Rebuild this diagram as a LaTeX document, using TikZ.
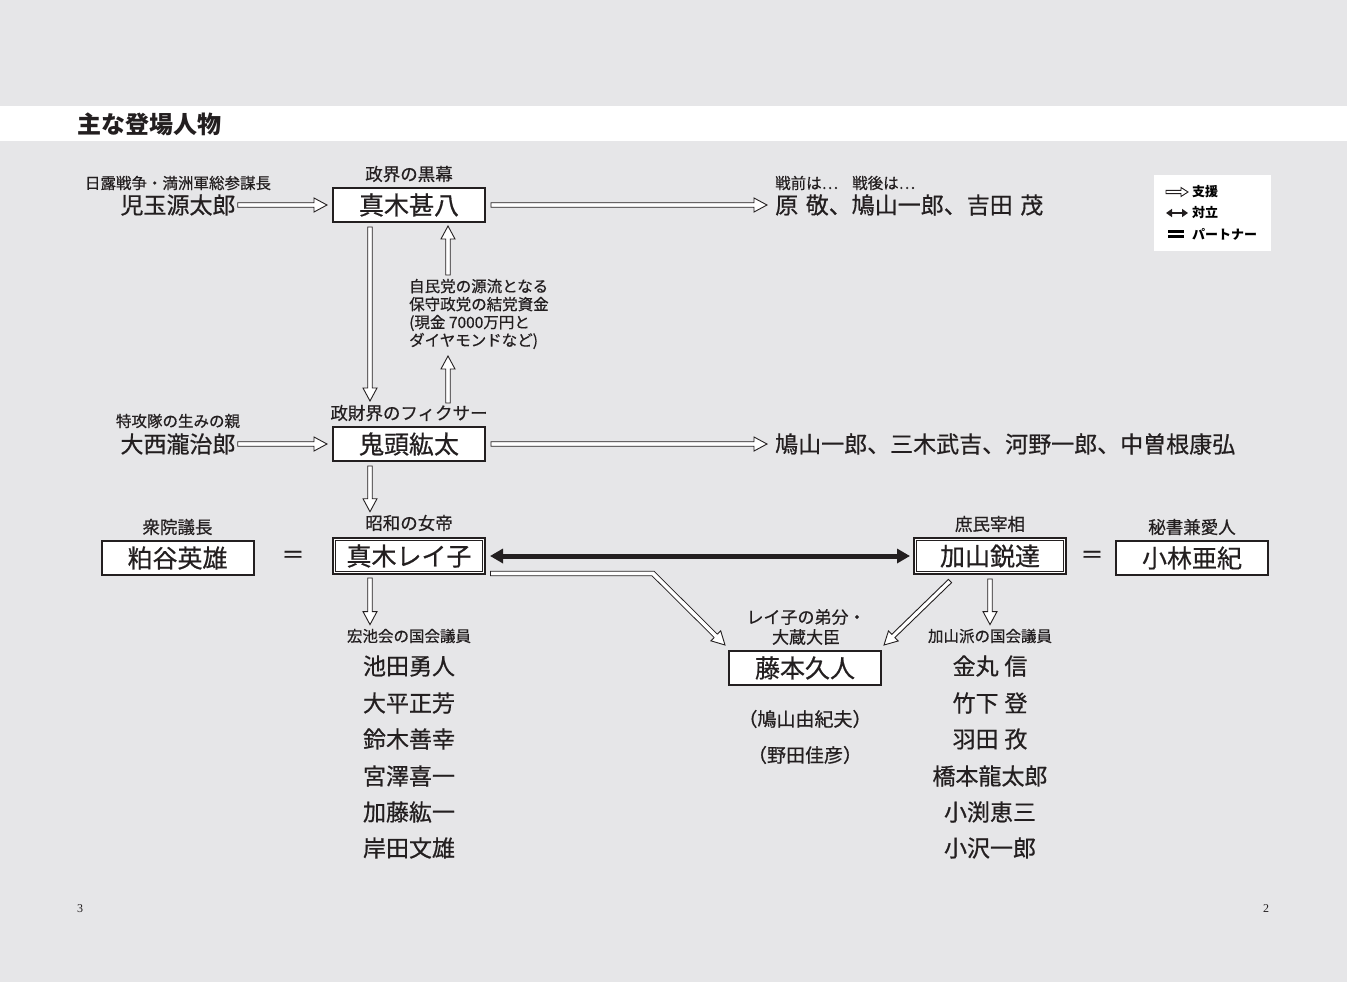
\documentclass[tikz,border=0pt]{standalone}
\usepackage{fontspec}
\newfontfamily\cjk{Noto Sans CJK JP}
\newfontfamily\cjkm[FakeBold=0.6]{Noto Sans CJK JP}
\newfontfamily\lserif{Liberation Serif}
\usetikzlibrary{calc,arrows.meta}
\definecolor{bg}{RGB}{230,230,232}
\definecolor{ink}{RGB}{35,31,32}
\newcommand\myfs[1]{\fontsize{#1}{#1}\selectfont}
\newcommand\hsw{2.25pt}
\newcommand\hhw{7pt}
\newcommand\hlen{13pt}
% straight hollow arrow from #1 to #2
\newcommand\hol[2]{%
  \path #1 coordinate (hs) #2 coordinate (ht);
  \coordinate (hb) at ($(ht)!\hlen!(hs)$);
  \draw[holarrow] ($(hs)!\hsw!90:(ht)$) -- ($(hb)!\hsw!90:(ht)$) -- ($(hb)!\hhw!90:(ht)$)
     -- (ht) -- ($(hb)!\hhw!-90:(ht)$) -- ($(hb)!\hsw!-90:(ht)$) -- ($(hs)!\hsw!-90:(ht)$) -- cycle;
}
\begin{document}
\begin{tikzpicture}[x=1pt,y=-1pt,
  holarrow/.style={draw=ink, fill=white, line width=0.9pt, line join=miter},
  namebox/.style={draw=ink, line width=2pt, fill=white, minimum width=152pt, minimum height=34pt, inner sep=0pt, text=ink, font=\cjkm\myfs{25}},
  dbox/.style={namebox, minimum height=36pt},
  person/.style={inner sep=0pt, text=ink, font=\cjkm\myfs{23}},
  lab/.style={inner sep=0pt, text=ink, font=\cjkm\myfs{17.5}},
  slab/.style={inner sep=0pt, text=ink, font=\cjkm\myfs{15.5}},
  paren/.style={inner sep=0pt, text=ink, font=\cjkm\myfs{19}},
  legtxt/.style={inner sep=0pt, anchor=west, text=black, font=\cjk\bfseries\myfs{13}},
  innerline/.style={draw=ink, line width=0.9pt},
]
\useasboundingbox (0,0) rectangle (1347,982);
\fill[bg] (0,0) rectangle (1347,982);
\fill[white] (0,106) rectangle (1347,141);
\node[anchor=west, inner sep=0pt, text=ink, font=\cjk\bfseries\myfs{24}] (title) at (77,124) {主な登場人物};

% legend
\node[fill=white, minimum width=117pt, minimum height=76pt, inner sep=0pt] (legend) at (1212.5,213) {};
\node[legtxt] (lg1) at (1192,192) {支援};
\node[legtxt] (lg2) at (1192,213) {対立};
\node[legtxt] (lg3) at (1192,234) {パートナー};
{\renewcommand\hsw{1.6pt}\renewcommand\hhw{4.5pt}\renewcommand\hlen{7pt}
 \hol{([xshift=-26pt]lg1.west)}{([xshift=-4pt]lg1.west)}}
\draw[ink, line width=2.4pt, {Triangle[length=6pt,width=8pt]}-{Triangle[length=6pt,width=8pt]}] ([xshift=-26pt]lg2.west) -- ([xshift=-4pt]lg2.west);
\draw[black, line width=2.6pt] ([xshift=-24pt,yshift=2.6pt]lg3.west) -- ([xshift=-8pt,yshift=2.6pt]lg3.west);
\draw[black, line width=2.6pt] ([xshift=-24pt,yshift=-2.6pt]lg3.west) -- ([xshift=-8pt,yshift=-2.6pt]lg3.west);

% row 1
\node[namebox] (jinpachi) at (409,205) {真木甚八};
\node[lab] (jinpachiL) at (409,174) {政界の黒幕};
\node[person] (kodama) at (178,205) {児玉源太郎};
\node[slab] (kodamaL) at (178,183) {日露戦争・満洲軍総参謀長};
\node[person, anchor=west] (prewar) at (775,205) {原\hspace{0.33em}敬、鳩山一郎、吉田\hspace{0.33em}茂};
\node[slab, anchor=west] (preL) at (775,183) {戦前は…};
\node[slab, anchor=west] (postL) at (852,183) {戦後は…};
\hol{([xshift=2pt]kodama.east)}{([xshift=-5pt]jinpachi.west)}
\hol{([xshift=5pt]jinpachi.east)}{([xshift=-8pt]prewar.west)}

% funds text
\node[slab, anchor=west, align=left, font=\cjkm\fontsize{15.5}{18}\selectfont] (fund) at (409,314)
  {自民党の源流となる\\保守政党の結党資金\\(現金 7000万円と\\ダイヤモンドなど)};

% row 2
\node[namebox] (kito) at (409,444) {鬼頭紘太};
\node[lab] (kitoL) at (409,413) {政財界のフィクサー};
\node[person] (onishi) at (178,444) {大西瀧治郎};
\node[slab] (onishiL) at (178,421) {特攻隊の生みの親};
\node[person, anchor=west] (kitoTo) at (775,444) {鳩山一郎、三木武吉、河野一郎、中曽根康弘};
\hol{([xshift=2pt]onishi.east)}{([xshift=-5pt]kito.west)}
\hol{([xshift=5pt]kito.east)}{([xshift=-8pt]kitoTo.west)}

\hol{([xshift=-39pt,yshift=-4pt]jinpachi.south)}{(370,401)}
\hol{(448,275)}{([xshift=39pt,yshift=-3pt]jinpachi.south)}
\hol{(448,403)}{(448,356)}

% row 3
\node[dbox] (reiko) at (409,556) {真木レイ子};
\draw[innerline] ([shift={(3.3pt,-3.3pt)}]reiko.north west) rectangle ([shift={(-3.3pt,3.3pt)}]reiko.south east);
\node[lab] (reikoL) at (409,523) {昭和の女帝};
\node[namebox] (kasuya) at (177.5,558) {粕谷英雄};
\node[lab] (kasuyaL) at (177.5,527) {衆院議長};
\node[person] (eq1) at (293,557) {＝};
\node[dbox] (kayama) at (990,556) {加山鋭達};
\draw[innerline] ([shift={(3.3pt,-3.3pt)}]kayama.north west) rectangle ([shift={(-3.3pt,3.3pt)}]kayama.south east);
\node[lab] (kayamaL) at (990,524) {庶民宰相};
\node[person] (eq2) at (1092,557) {＝};
\node[namebox] (kobayashi) at (1192,558) {小林亜紀};
\node[lab] (kobayashiL) at (1192,527) {秘書兼愛人};

\hol{([xshift=-39pt,yshift=-4pt]kito.south)}{([xshift=-39pt,yshift=3pt]reikoL.north)}

\draw[ink, line width=5pt, {Triangle[length=13pt,width=14pt]}-{Triangle[length=13pt,width=14pt]}]
  ([xshift=4pt]reiko.east) -- ([xshift=-3pt]kayama.west);

% Fujimoto
\node[namebox] (fujimoto) at (805,668) {藤本久人};
\node[lab, align=center, font=\cjkm\fontsize{17}{20}\selectfont] (fujimotoL) at (806,627) {レイ子の弟分・\\大蔵大臣};
\node[paren] (hatoyamaY) at (805,719) {（鳩山由紀夫）};
\node[paren] (noda) at (805,755) {（野田佳彦）};

% bent arrow from Reiko to Fujimoto
\coordinate (rs) at ([xshift=4pt,yshift=-17.5pt]reiko.east);
\coordinate (bend) at (653,573.5);
\coordinate (rt) at ([xshift=-3pt,yshift=5pt]fujimoto.north west);
\coordinate (rb) at ($(rt)!\hlen!(bend)$);
\draw[draw=ink, line width=0.9pt, double=white, double distance=3.6pt, line join=miter] (rs) -- (bend) -- (rb);
\draw[ink, line width=0.9pt, line cap=square] ($(rs)!2.25pt!90:(bend)$) -- ($(rs)!2.25pt!-90:(bend)$);
\fill[white] ($(rb)!\hsw!90:(rt)$) -- ($(rb)!\hhw!90:(rt)$) -- (rt) -- ($(rb)!\hhw!-90:(rt)$) -- ($(rb)!\hsw!-90:(rt)$) -- cycle;
\draw[ink, line width=0.9pt, line join=miter] ($(rb)!\hsw!90:(rt)$) -- ($(rb)!\hhw!90:(rt)$) -- (rt) -- ($(rb)!\hhw!-90:(rt)$) -- ($(rb)!\hsw!-90:(rt)$);

\hol{([xshift=-40pt,yshift=-6pt]kayama.south)}{([xshift=2pt,yshift=5pt]fujimoto.north east)}

% Kochikai list
\node[slab] (kochiL) at (409,636) {宏池会の国会議員};
\hol{([xshift=-39pt,yshift=-3pt]reiko.south)}{([xshift=-39pt,yshift=4pt]kochiL.north)}
\node[person] (k1) at (409,666) {池田勇人};
\node[person] (k2) at (409,703) {大平正芳};
\node[person] (k3) at (409,739) {鈴木善幸};
\node[person] (k4) at (409,776) {宮澤喜一};
\node[person] (k5) at (409,812) {加藤紘一};
\node[person] (k6) at (409,848) {岸田文雄};

% Kayama faction list
\node[slab] (kayhaL) at (990,636) {加山派の国会議員};
\hol{([yshift=-4pt]kayama.south)}{([yshift=4pt]kayhaL.north)}
\node[person] (m1) at (990,666) {金丸\hspace{0.25em}信};
\node[person] (m2) at (990,703) {竹下\hspace{0.25em}登};
\node[person] (m3) at (990,739) {羽田\hspace{0.25em}孜};
\node[person] (m4) at (990,776) {橋本龍太郎};
\node[person] (m5) at (990,812) {小渕恵三};
\node[person] (m6) at (990,848) {小沢一郎};

% page numbers
\node[inner sep=0pt, text=ink, font=\lserif\myfs{12}] (p3) at (80,909) {3};
\node[inner sep=0pt, text=ink, font=\lserif\myfs{12}] (p2) at (1266,909) {2};
\end{tikzpicture}
\end{document}
